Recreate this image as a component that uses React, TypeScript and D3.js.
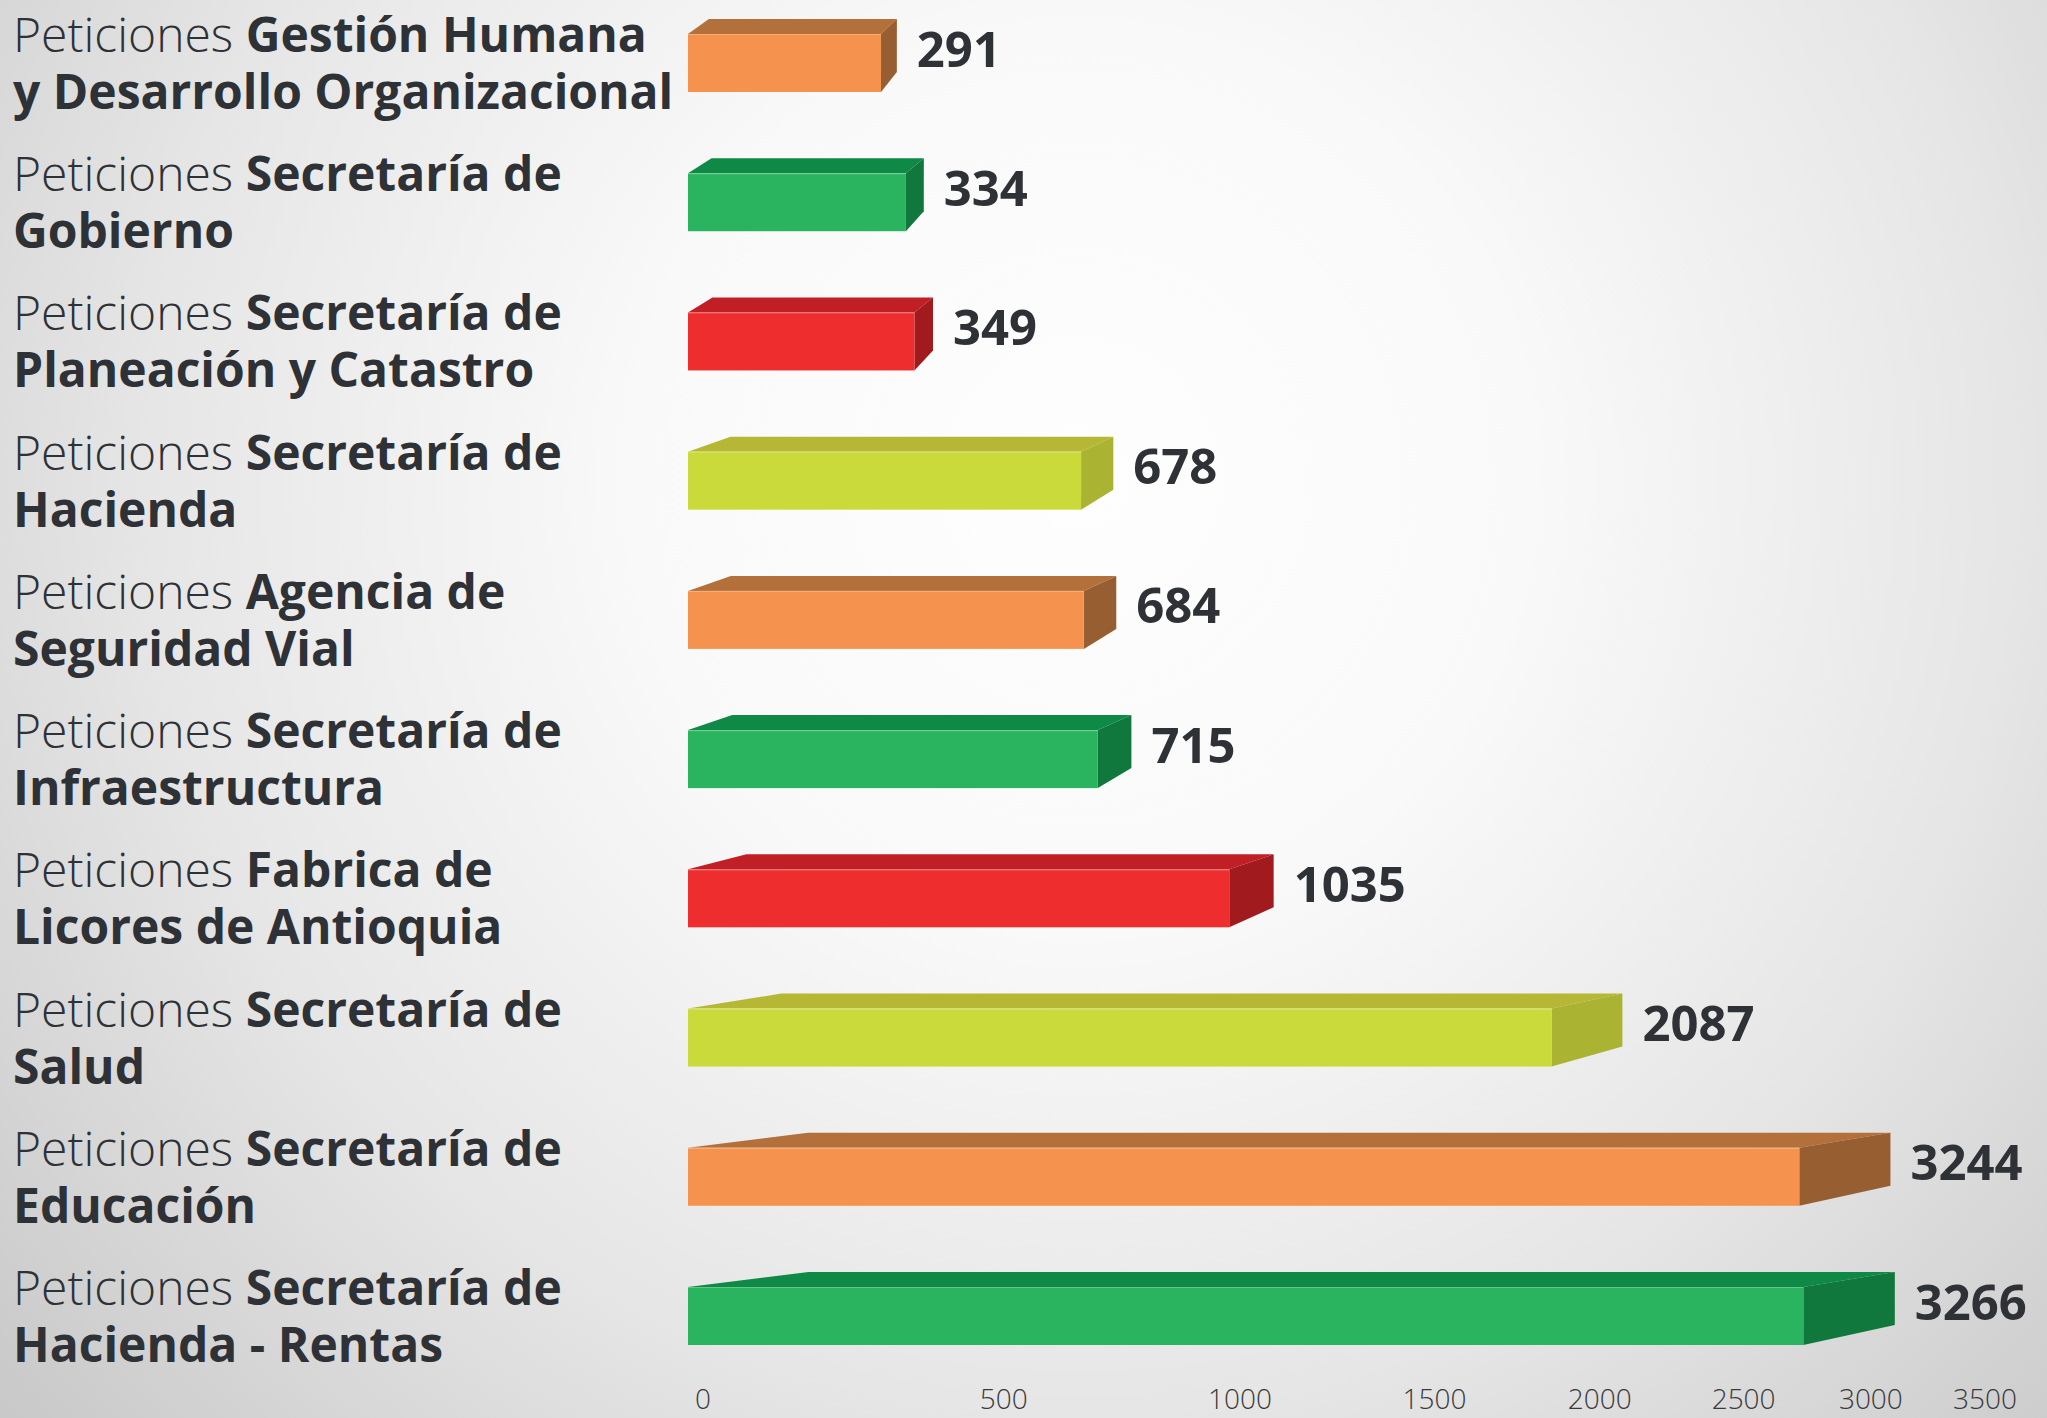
import React, { useEffect } from "react";
import * as d3 from "d3";

// ---- data ----
const categoryLine1: string[] = [
  "Gestión Humana",
  "Secretaría de",
  "Secretaría de",
  "Secretaría de",
  "Agencia de",
  "Secretaría de",
  "Fabrica de",
  "Secretaría de",
  "Secretaría de",
  "Secretaría de",
];
const categoryLine2: string[] = [
  "y Desarrollo Organizacional",
  "Gobierno",
  "Planeación y Catastro",
  "Hacienda",
  "Seguridad Vial",
  "Infraestructura",
  "Licores de Antioquia",
  "Salud",
  "Educación",
  "Hacienda - Rentas",
];
const values: number[] = [291, 334, 349, 678, 684, 715, 1035, 2087, 3244, 3266];
const colorKeys: string[] = [
  "orange", "green", "red", "lime", "orange", "green", "red", "lime", "orange", "green",
];
const tickValues: number[] = [0, 500, 1000, 1500, 2000, 2500, 3000, 3500];
const prefix = "Peticiones ";

const palette: Record<string, { front: string; top: string; side: string }> = {
  orange: { front: "#f5924e", top: "#b4703a", side: "#975e31" },
  green: { front: "#2bb45f", top: "#0e8946", side: "#10783d" },
  red: { front: "#ee2e2e", top: "#c11f26", side: "#a01a1e" },
  lime: { front: "#cbda3b", top: "#b6b835", side: "#aab332" },
};

const W = 2047;
const H = 1418;
const FONT = "'Open Sans', 'Noto Sans', sans-serif";

export default function App() {
  useEffect(() => {
    document.body.style.margin = "0";
  }, []);

  const idx = values.map((_, i) => i);
  // row position (front-face top)
  const y = d3.scaleLinear().domain([0, values.length - 1]).range([34, 1287]);
  // bar length scale (infographic uses a compressed scale)
  const xBar = d3.scaleSymlog().constant(1050).domain([0, 3500]).range([688, 1845]);
  // axis scale
  const xAxis = d3.scaleSymlog().constant(1600).domain([0, 3500]).range([703, 1985]);

  const frontH = 58;
  const depthY = 15;
  const backH = 53;

  return (
    <svg width={W} height={H} style={{ display: "block" }} xmlns="http://www.w3.org/2000/svg">
      <defs>
        <radialGradient id="bg" gradientUnits="userSpaceOnUse" cx={1080} cy={480} r={1500}>
          <stop offset="0" stopColor="#fefefe" />
          <stop offset="0.3" stopColor="#f9f9f9" />
          <stop offset="0.62" stopColor="#e6e6e6" />
          <stop offset="1" stopColor="#c4c4c4" />
        </radialGradient>
      </defs>
      <rect x={0} y={0} width={W} height={H} fill="url(#bg)" />

      {idx.map((i) => {
        const x0 = xBar(0);
        const x1 = xBar(values[i]);
        const w = x1 - x0;
        const yt = y(i);
        const yb = yt + frontH;
        const byt = yt - depthY;
        const byb = byt + backH;
        const bxl = x0 + 0.108 * w;
        const bxr = x1 + 0.082 * w;
        const c = palette[colorKeys[i]];
        const topPts = `${x0},${yt} ${bxl},${byt} ${bxr},${byt} ${x1},${yt}`;
        const sidePts = `${x1},${yt} ${bxr},${byt} ${bxr},${byb} ${x1},${yb}`;
        const labelY = (byt + yb) / 2 - 6 + 17;
        return (
          <g key={i}>
            <polygon points={topPts} fill={c.top} />
            <polygon points={sidePts} fill={c.side} />
            <rect x={x0} y={yt} width={w} height={frontH} fill={c.front} />
            <line x1={x0} x2={x1} y1={yt + 0.5} y2={yt + 0.5} stroke="#ffffff" strokeOpacity={0.25} strokeWidth={1.2} />
            <text
              x={bxr + 20}
              y={labelY}
              fontFamily={FONT}
              fontWeight={700}
              fontSize={49}
              fill="#2e3135"
            >
              {d3.format("d")(values[i])}
            </text>
            <text x={13} y={yt + 18} fontFamily={FONT} fontSize={48} fill="#2e3135">
              <tspan fontWeight={300}>{prefix}</tspan>
              <tspan fontWeight={700}>{categoryLine1[i]}</tspan>
            </text>
            <text x={13} y={yt + 18 + 57} fontFamily={FONT} fontSize={48} fontWeight={700} fill="#2e3135">
              {categoryLine2[i]}
            </text>
          </g>
        );
      })}

      <g>
        {tickValues.map((t) => (
          <text
            key={t}
            x={xAxis(t)}
            y={1409}
            textAnchor="middle"
            fontFamily={FONT}
            fontWeight={300}
            fontSize={28}
            fill="#3a3a3a"
          >
            {t}
          </text>
        ))}
      </g>
    </svg>
  );
}
